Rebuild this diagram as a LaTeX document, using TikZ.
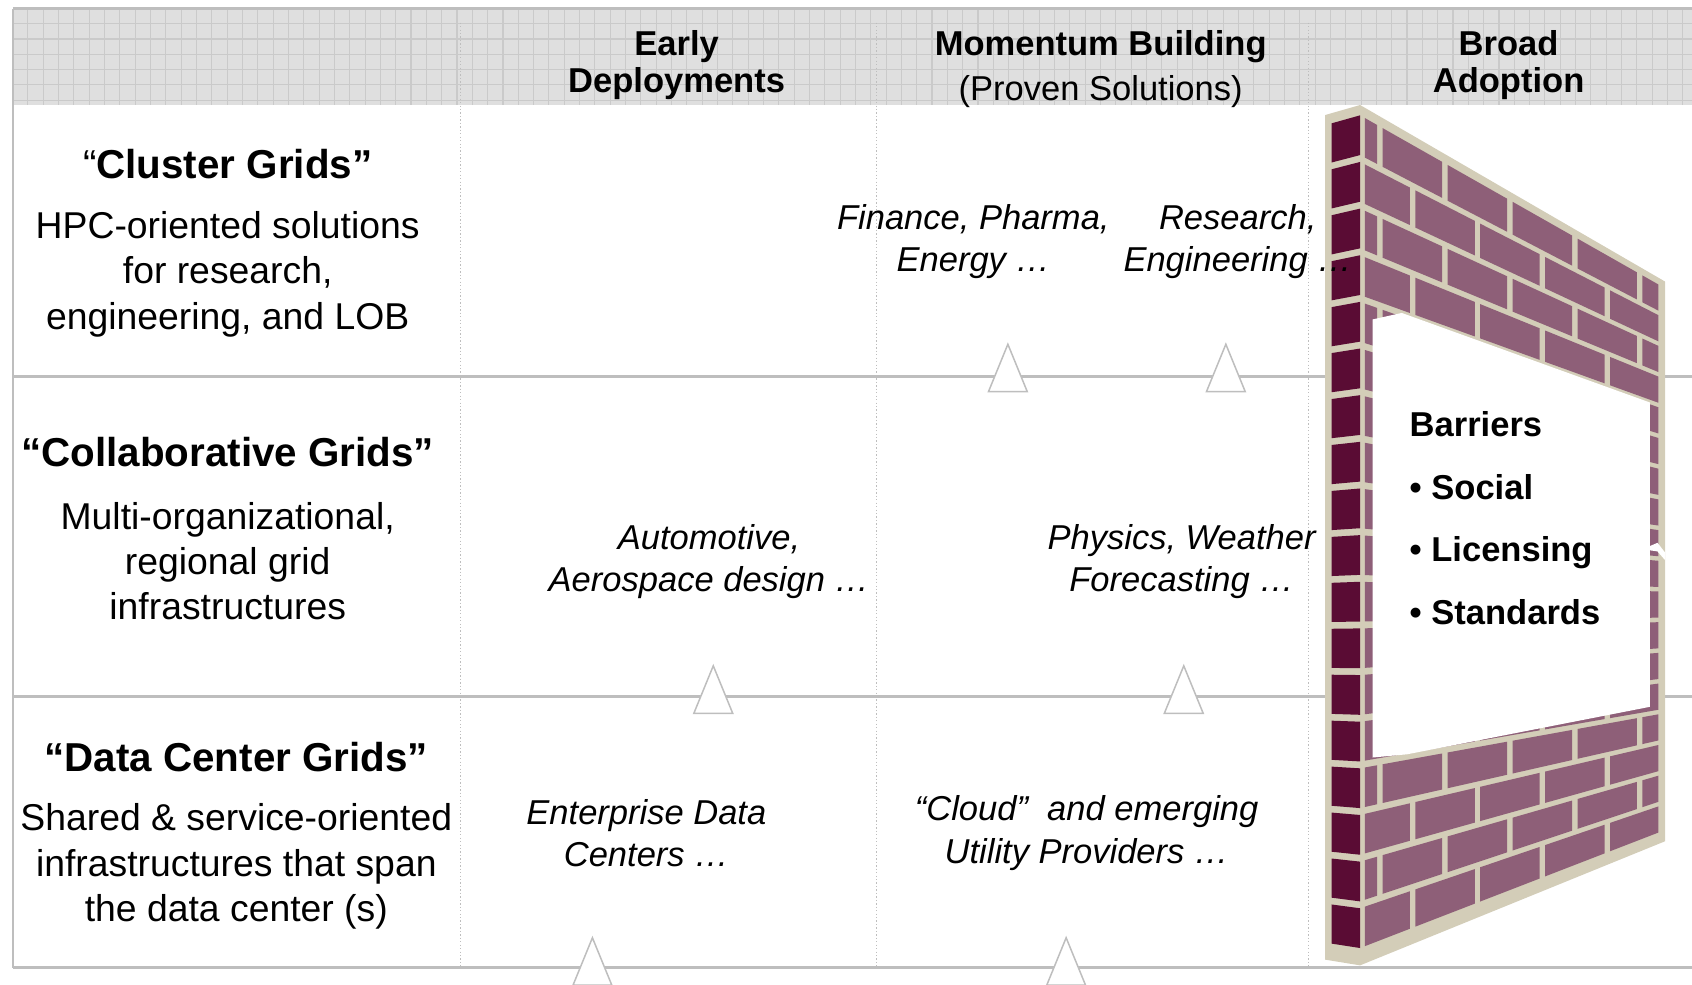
\documentclass[tikz,border=0pt]{standalone}
\usepackage{fontspec}
\setmainfont{Liberation Sans}
\definecolor{hdrgray}{HTML}{DFDFDF}
\definecolor{gridgray}{HTML}{CACACA}
\definecolor{linegray}{HTML}{BEBEBE}
\definecolor{mortar}{HTML}{D3CDB8}
\definecolor{brickface}{HTML}{8E5F78}
\definecolor{brickside}{HTML}{5A0C34}
\tikzset{
	hdr/.style={inner sep=0pt, align=center, font=\fontsize{16}{17}\selectfont\bfseries},
	rowtitle/.style={inner sep=0pt, font=\fontsize{18.7}{21}\selectfont\bfseries},
	rowtext/.style={inner sep=0pt, align=center, font=\fontsize{17.3}{21}\selectfont},
	usecase/.style={inner sep=0pt, align=center, font=\fontsize{16}{19.5}\selectfont\itshape},
	barrier/.style={inner sep=0pt, anchor=base west, font=\fontsize{16}{19}\selectfont\bfseries},
	rowline/.style={draw=linegray, line width=1.4pt},
	divider/.style={draw=linegray, line width=0.5pt, dash pattern=on 0.6pt off 1pt},
	marker/.style={draw=linegray, fill=white, line width=0.7pt},
	brick/.style={fill=brickface},
	sidebrick/.style={fill=brickside},
	declare function={wx(\u)=1260.4+282.6*\u; wy(\u,\v)=97.3+163.6*\u+\v*(797.3-278.6*\u);
		sx(\u)=1228+32.4*\u; sy(\u,\v)=106.6-9.3*\u+\v*(782.7+14.6*\u);}
}
\begin{document}
\begin{tikzpicture}[x=0.5pt,y=-0.5pt]
	\useasboundingbox (0,0) rectangle (1568,912);
	\fill[hdrgray] (12,8) rectangle (1568,97);
	\foreach \gx in {25.9,40.1,...,1568} \draw[gridgray, line width=0.5pt] (\gx,8) -- (\gx,97);
	\foreach \gy in {21.9,36.1,...,93} \draw[gridgray, line width=0.5pt] (12,\gy) -- (1568,\gy);
	\draw[linegray, line width=1.2pt] (12,8) -- (1568,8);
	\draw[linegray, line width=1pt] (12,8) -- (12,897);
	\foreach \cx in {427,812,1213} \draw[divider] (\cx,21) -- (\cx,897);
	\foreach \ry in {349,645,897} \draw[rowline] (12,\ry) -- (1568,\ry);
	\foreach \tx/\ty in {934/319,1136/319,661/617,1097/617,549/869,988/869}
		\draw[marker] (\tx,\ty) -- ++(18,44) -- ++(-36,0) -- cycle;

	\fill[mortar] (1228,106.6) -- (1260.4,97.3) -- (1543,260.9) -- (1543,779.6) -- (1260.4,894.6) -- (1228,889.3) -- cycle;
	\foreach \k in {0,...,17}{
		\pgfmathsetmacro{\va}{0.012+\k*0.05422}
		\pgfmathsetmacro{\vb}{\va+0.0462}
		\ifodd\k\relax
			\def\bricklist{0.016/0.163,0.181/0.376,0.394/0.589,0.607/0.802,0.820/0.978}
		\else
			\def\bricklist{0.016/0.056,0.074/0.269,0.287/0.482,0.500/0.695,0.713/0.908,0.926/0.978}
		\fi
		\foreach \ua/\ub in \bricklist
			\fill[brick] ({wx(\ua)},{wy(\ua,\va)}) -- ({wx(\ub)},{wy(\ub,\va)}) -- ({wx(\ub)},{wy(\ub,\vb)}) -- ({wx(\ua)},{wy(\ua,\vb)}) -- cycle;
		\fill[sidebrick] ({sx(0.185)},{sy(0.185,\va)}) -- ({sx(1)},{sy(1,\va)}) -- ({sx(1)},{sy(1,\vb)}) -- ({sx(0.185)},{sy(0.185,\vb)}) -- cycle;
	}
	\fill[white] (1272,296) -- (1299,290) -- (1529,373) -- (1529,655) -- (1304,699) -- (1272,702) -- cycle;
	\fill[white] (1529,506) -- (1536,503) -- (1543,512) -- (1543,519) -- (1536,511) -- (1529,510) -- cycle;

	\node (early) at (627,60.5) [hdr] {Early\\Deployments};
	\node (momentum) at (1020,64) [hdr] {Momentum Building\\[4pt]\mdseries (Proven Solutions)};
	\node (broad) at (1398,60.5) [hdr] {Broad\\Adoption};

	\node (cluster) at (211,152) [rowtitle] {{\mdseries “}Cluster Grids”};
	\node (clustertxt) at (211,254) [rowtext] {HPC-oriented solutions\\for research,\\engineering, and LOB};
	\node (collab) at (211,419) [rowtitle] {“Collaborative Grids”};
	\node (collabtxt) at (211,520) [rowtext] {Multi-organizational,\\regional grid\\infrastructures};
	\node (datactr) at (219,702) [rowtitle] {“Data Center Grids”};
	\node (datactrtxt) at (219,803) [rowtext] {Shared \& service-oriented\\infrastructures that span\\the data center (s)};

	\node (finance) at (902,224) [usecase] {Finance, Pharma,\\Energy …};
	\node (research) at (1147,224) [usecase] {Research,\\Engineering …};
	\node (auto) at (657,520) [usecase] {Automotive,\\Aerospace design …};
	\node (physics) at (1095,520) [usecase] {Physics, Weather\\Forecasting …};
	\node (enterprise) at (599,772) [usecase] {Enterprise Data\\Centers …};
	\node (cloud) at (1007,772) [usecase] {“Cloud”\ \ and emerging\\Utility Providers …};

	\node (barriers) at (1306,404.5) [barrier] {Barriers};
	\node (social) at (1306,462.5) [barrier] {• Social};
	\node (licensing) at (1306,520.5) [barrier] {• Licensing};
	\node (standards) at (1306,578.5) [barrier] {• Standards};
\end{tikzpicture}
\end{document}
